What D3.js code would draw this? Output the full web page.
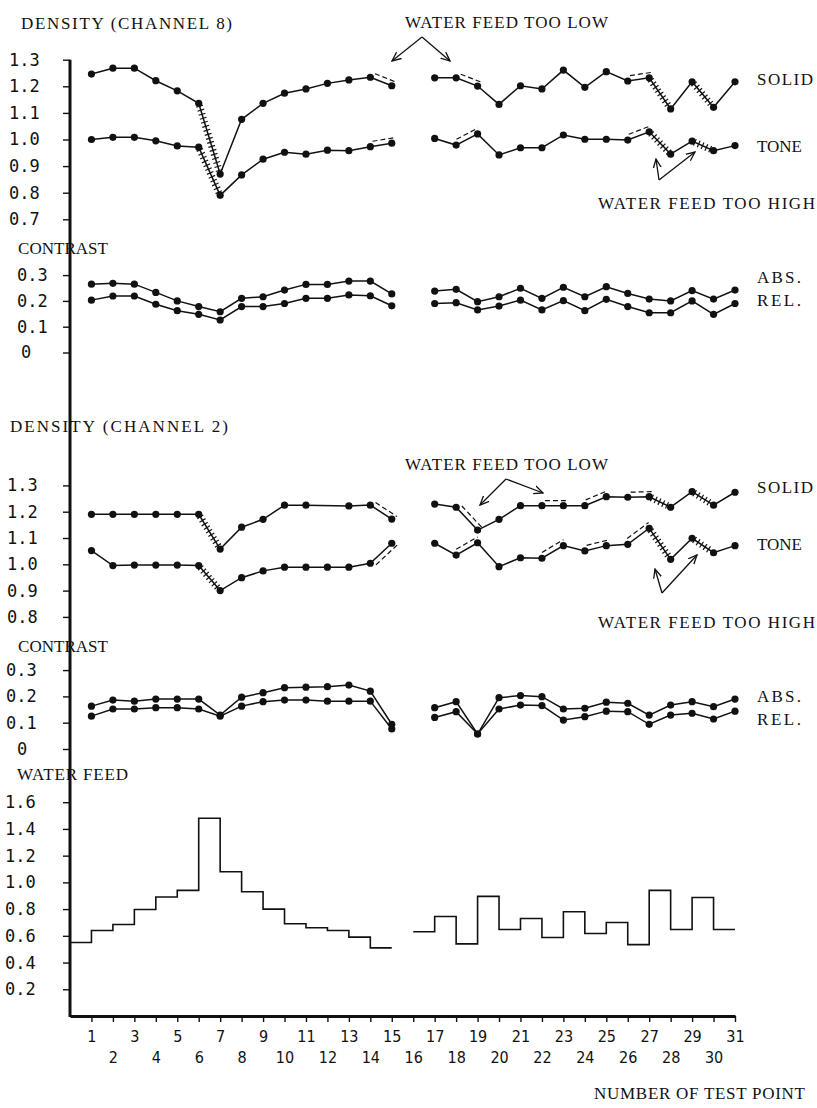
<!DOCTYPE html>
<html lang="en">
<head>
<meta charset="UTF-8">
<title>Density, contrast and water feed per test point</title>
<script src="https://d3js.org/d3.v7.min.js"></script>
<style>
  body { margin: 0; background: #fff; }
  svg text { fill: #111; }
  .title { font-family: "Liberation Serif", "DejaVu Serif", serif; font-size: 17px; }
  .tick text { font-family: "DejaVu Sans Mono", monospace; font-size: 17px; fill: #111; }
  .x-axis .tick text { font-family: "Liberation Sans Narrow", "DejaVu Sans Condensed", sans-serif; font-size: 16px; }
</style>
</head>
<body>
<svg id="chart" width="817" height="1108"></svg>
<script>
// test points 1..31, point 16 was not measured
var testPoints = d3.range(1, 32);

// density, channel 8
var ch8Solid = [1.246, 1.268, 1.268, 1.221, 1.183, 1.136, 0.870, 1.076, 1.136, 1.174, 1.190, 1.211, 1.224, 1.234, 1.202, null,
                1.232, 1.232, 1.201, 1.132, 1.202, 1.190, 1.261, 1.196, 1.255, 1.220, 1.232, 1.115, 1.217, 1.121, 1.217];
var ch8Tone = [1.000, 1.008, 1.008, 0.995, 0.976, 0.971, 0.790, 0.867, 0.926, 0.952, 0.945, 0.960, 0.958, 0.973, 0.986, null,
               1.004, 0.979, 1.021, 0.942, 0.969, 0.969, 1.017, 1.001, 1.001, 0.998, 1.029, 0.945, 0.994, 0.958, 0.977];
// contrast, channel 8
var ch8Abs = [0.265, 0.268, 0.265, 0.233, 0.200, 0.178, 0.158, 0.210, 0.216, 0.242, 0.264, 0.264, 0.277, 0.277, 0.227, null,
              0.238, 0.245, 0.197, 0.216, 0.249, 0.210, 0.253, 0.216, 0.255, 0.229, 0.207, 0.200, 0.240, 0.207, 0.242];
var ch8Rel = [0.203, 0.219, 0.219, 0.187, 0.162, 0.148, 0.126, 0.178, 0.178, 0.190, 0.210, 0.210, 0.223, 0.220, 0.181, null,
              0.190, 0.193, 0.165, 0.180, 0.203, 0.165, 0.201, 0.162, 0.206, 0.178, 0.154, 0.154, 0.200, 0.148, 0.190];
// density, channel 2 (no dot at point 12 on the solid curve)
var ch2Solid = [1.190, 1.190, 1.190, 1.190, 1.190, 1.190, 1.058, 1.141, 1.171, 1.225, 1.225, null, 1.222, 1.225, 1.172, null,
                1.229, 1.217, 1.130, 1.171, 1.223, 1.223, 1.223, 1.223, 1.257, 1.255, 1.257, 1.217, 1.276, 1.225, 1.274];
var ch2Tone = [1.052, 0.995, 0.997, 0.997, 0.997, 0.995, 0.900, 0.949, 0.975, 0.989, 0.989, 0.989, 0.989, 1.004, 1.080, null,
               1.080, 1.035, 1.082, 0.991, 1.025, 1.023, 1.071, 1.051, 1.071, 1.076, 1.137, 1.019, 1.099, 1.044, 1.071];
// contrast, channel 2
var ch2Abs = [0.163, 0.186, 0.182, 0.190, 0.190, 0.190, 0.129, 0.197, 0.214, 0.233, 0.235, 0.237, 0.243, 0.220, 0.094, null,
              0.157, 0.180, 0.057, 0.195, 0.203, 0.199, 0.152, 0.155, 0.178, 0.174, 0.129, 0.167, 0.180, 0.161, 0.190];
var ch2Rel = [0.125, 0.152, 0.152, 0.157, 0.157, 0.152, 0.125, 0.163, 0.180, 0.186, 0.186, 0.182, 0.182, 0.182, 0.076, null,
              0.120, 0.142, 0.057, 0.152, 0.167, 0.165, 0.110, 0.123, 0.144, 0.142, 0.094, 0.129, 0.136, 0.114, 0.144];
// water feed per test point
var waterFeed = [0.55, 0.64, 0.685, 0.797, 0.89, 0.94, 1.48, 1.08, 0.93, 0.80, 0.69, 0.66, 0.64, 0.59, 0.51, null,
                 0.63, 0.745, 0.54, 0.895, 0.647, 0.73, 0.587, 0.78, 0.617, 0.70, 0.534, 0.94, 0.647, 0.887, 0.647];

// segments (given by their first point) where water feed was too high / too low
var ch8High = [6, 27, 29];
var ch8Low = [14, 18, 26];
var ch2High = [6, 27, 29];
var ch2Low = [14, 18, 22, 24, 26];

var densityTicks8 = [0.7, 0.8, 0.9, 1.0, 1.1, 1.2, 1.3];
var contrastTicks = [0, 0.1, 0.2, 0.3];
var densityTicks2 = [0.8, 0.9, 1.0, 1.1, 1.2, 1.3];
var waterTicks = [0.2, 0.4, 0.6, 0.8, 1.0, 1.2, 1.4, 1.6];

var svg = d3.select("#chart");
var axisX = 70;

var x = d3.scaleLinear().domain([0, 31]).range([axisX, 735]);

var yD8 = d3.scaleLinear().domain([0.7, 1.3]).range([219.3, 59.7]);
var yC8 = d3.scaleLinear().domain([0, 0.3]).range([352.5, 275.1]);
var yD2 = d3.scaleLinear().domain([0.8, 1.3]).range([616.9, 485.4]);
var yC2 = d3.scaleLinear().domain([0, 0.3]).range([749, 670.1]);
var yW = d3.scaleLinear().domain([0, 1.6]).range([1016, 802.2]);

// arrow head for the annotations
svg.append("defs").append("marker")
   .attr("id", "head")
   .attr("viewBox", "0 0 10 10")
   .attr("refX", 9).attr("refY", 5)
   .attr("markerWidth", 10).attr("markerHeight", 10)
   .attr("markerUnits", "userSpaceOnUse")
   .attr("orient", "auto")
   .append("path")
   .attr("d", "M0,1 L9,5 L0,9")
   .attr("fill", "none").attr("stroke", "#111").attr("stroke-width", 1.3);

// main vertical axis line
svg.append("line")
   .attr("x1", axisX).attr("x2", axisX)
   .attr("y1", yD8(1.3)).attr("y2", yW(0) + 1)
   .attr("stroke", "#111").attr("stroke-width", 3);

function fmt(d) { return d === 0 ? "0" : d3.format(".1f")(d); }

function leftTicks(y, ticks, labelX, zeroX) {
    var g = svg.append("g")
        .attr("class", "y-axis")
        .attr("transform", "translate(" + axisX + ",0)")
        .call(d3.axisLeft(y).tickValues(ticks).tickSize(7).tickSizeOuter(0).tickFormat(fmt));
    g.select(".domain").remove();
    g.selectAll(".tick line").attr("stroke", "#111").attr("stroke-width", 1.4);
    g.selectAll(".tick text")
        .attr("text-anchor", "start")
        .attr("x", function(d) { return (d === 0 ? zeroX : labelX) - axisX; });
}

leftTicks(yD8, densityTicks8, 9, 20);
leftTicks(yC8, contrastTicks, 17, 21);
leftTicks(yD2, densityTicks2, 7, 18);
leftTicks(yC2, contrastTicks, 6, 17);
leftTicks(yW, waterTicks, 5, 16);

// bottom axis
var xg = svg.append("g")
    .attr("class", "x-axis")
    .attr("transform", "translate(0," + yW(0) + ")")
    .call(d3.axisBottom(x).tickValues(testPoints).tickSize(6).tickSizeOuter(0));
xg.select(".domain").attr("stroke", "#111").attr("stroke-width", 3);
xg.selectAll(".tick line").attr("stroke", "#111").attr("stroke-width", 1.4);
xg.selectAll(".tick text")
    .attr("dy", null)
    .attr("y", function(d) { return d % 2 ? 26 : 47; });

function rows(values) {
    return testPoints.map(function(p, i) { return { p: p, v: values[i] }; })
                     .filter(function(d) { return d.v != null; });
}

function drawSeries(y, values, high, low, flip) {
    var pts = rows(values);
    var line = d3.line().x(function(d) { return x(d.p); }).y(function(d) { return y(d.v); });
    var g = svg.append("g");
    [pts.filter(function(d) { return d.p < 16; }), pts.filter(function(d) { return d.p > 16; })]
        .forEach(function(run) {
            g.append("path").attr("d", line(run))
             .attr("fill", "none").attr("stroke", "#111").attr("stroke-width", 1.5);
        });

    function seg(p) {
        var i = pts.findIndex(function(d) { return d.p === p; });
        var a = pts[i], b = pts[i + 1];
        var ax = x(a.p), ay = y(a.v), bx = x(b.p), by = y(b.v);
        var len = Math.hypot(bx - ax, by - ay);
        var ux = (bx - ax) / len, uy = (by - ay) / len;
        return { ax: ax, ay: ay, bx: bx, by: by, len: len, ux: ux, uy: uy, nx: uy, ny: -ux };
    }

    // too high: hatched segment
    high.forEach(function(p) {
        var s = seg(p);
        var ts = d3.range(3, s.len - 2, 4.2);
        g.selectAll(null).data(ts).enter().append("line")
         .attr("x1", function(t) { return s.ax + s.ux * t - s.nx * 3.5; })
         .attr("y1", function(t) { return s.ay + s.uy * t - s.ny * 3.5; })
         .attr("x2", function(t) { return s.ax + s.ux * t + s.nx * 3.5; })
         .attr("y2", function(t) { return s.ay + s.uy * t + s.ny * 3.5; })
         .attr("stroke", "#111").attr("stroke-width", 1.2);
    });

    // too low: dashed line beside the segment
    low.forEach(function(p) {
        var s = seg(p);
        var side = (flip || []).indexOf(p) >= 0 ? -5 : 5;
        g.append("line")
         .attr("x1", s.ax + s.nx * side + s.ux * 3)
         .attr("y1", s.ay + s.ny * side + s.uy * 3)
         .attr("x2", s.bx + s.nx * side + s.ux * 3)
         .attr("y2", s.by + s.ny * side + s.uy * 3)
         .attr("stroke", "#111").attr("stroke-width", 1.2)
         .attr("stroke-dasharray", "5,3");
    });

    g.selectAll("circle").data(pts).enter().append("circle")
     .attr("cx", function(d) { return x(d.p); })
     .attr("cy", function(d) { return y(d.v); })
     .attr("r", 3.6)
     .attr("fill", "#111");
}

drawSeries(yD8, ch8Solid, ch8High, ch8Low);
drawSeries(yD8, ch8Tone, ch8High, ch8Low);
drawSeries(yC8, ch8Abs, [], []);
drawSeries(yC8, ch8Rel, [], []);
drawSeries(yD2, ch2Solid, ch2High, ch2Low);
drawSeries(yD2, ch2Tone, ch2High, ch2Low, [14]);
drawSeries(yC2, ch2Abs, [], []);
drawSeries(yC2, ch2Rel, [], []);

// water feed as steps: each value holds from the previous test point up to its own
var water = rows(waterFeed);
var stepLine = d3.line().x(function(d) { return x(d[0]); }).y(function(d) { return yW(d[1]); });
[water.filter(function(d) { return d.p < 16; }), water.filter(function(d) { return d.p > 16; })]
    .forEach(function(run) {
        var path = [];
        run.forEach(function(d) { path.push([d.p - 1, d.v], [d.p, d.v]); });
        svg.append("path").attr("d", stepLine(path))
           .attr("fill", "none").attr("stroke", "#111").attr("stroke-width", 1.6);
    });

// labels: text, x, baseline, width in the original
var texts = [
    ["DENSITY (CHANNEL 8)", 21, 29, 211],
    ["WATER FEED TOO LOW", 405, 28, 203],
    ["SOLID", 757, 85, 56],
    ["TONE", 757, 152, 45],
    ["WATER FEED TOO HIGH", 598, 209, 217],
    ["CONTRAST", 18, 254, 90],
    ["ABS.", 757, 283, 44],
    ["REL.", 757, 306, 44],
    ["DENSITY (CHANNEL 2)", 10, 432, 218],
    ["WATER FEED TOO LOW", 405, 470, 203],
    ["SOLID", 757, 493, 56],
    ["TONE", 757, 550, 45],
    ["WATER FEED TOO HIGH", 598, 628, 217],
    ["CONTRAST", 18, 652, 90],
    ["ABS.", 757, 702, 44],
    ["REL.", 757, 725, 44],
    ["WATER FEED", 17, 780, 111],
    ["NUMBER OF TEST POINT", 594, 1099, 211]
];
svg.selectAll(".title").data(texts).enter().append("text")
   .attr("class", "title")
   .attr("x", function(d) { return d[1]; })
   .attr("y", function(d) { return d[2]; })
   .attr("textLength", function(d) { return d[3]; })
   .attr("lengthAdjust", "spacing")
   .text(function(d) { return d[0]; });

// annotation arrows: [from, to]
var arrows = [
    [[422, 37], [392, 61]], [[422, 37], [450, 61]],
    [[659, 180], [656, 159]], [[659, 180], [695, 152]],
    [[506, 479], [480, 505]], [[506, 479], [543, 493]],
    [[662, 593], [655, 569]], [[662, 593], [697, 555]]
];
svg.selectAll(".arrow").data(arrows).enter().append("line")
   .attr("class", "arrow")
   .attr("x1", function(d) { return d[0][0]; })
   .attr("y1", function(d) { return d[0][1]; })
   .attr("x2", function(d) { return d[1][0]; })
   .attr("y2", function(d) { return d[1][1]; })
   .attr("stroke", "#111").attr("stroke-width", 1.3)
   .attr("marker-end", "url(#head)");
</script>
</body>
</html>
